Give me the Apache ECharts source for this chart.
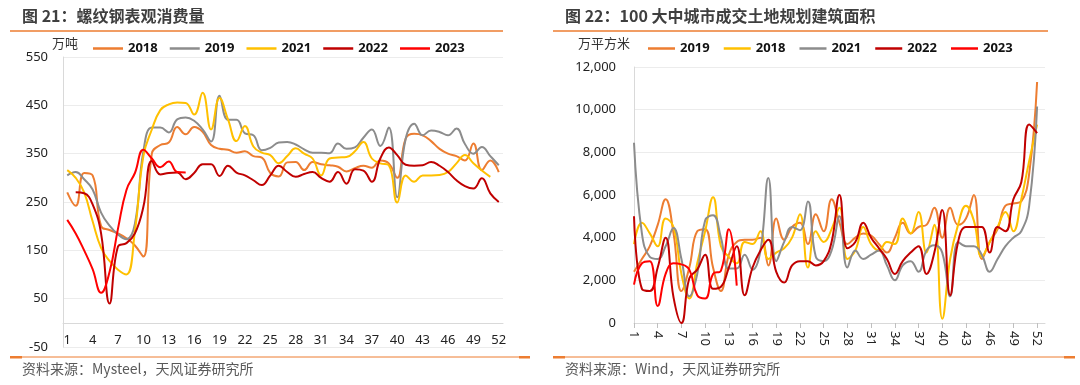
<!DOCTYPE html>
<html><head><meta charset="utf-8">
<script src="https://cdn.jsdelivr.net/npm/echarts@6/dist/echarts.min.js"></script>
<style>
html,body{margin:0;padding:0;background:#fff;}
#l{position:absolute;left:0;top:0;width:540px;height:385px;}
#r{position:absolute;left:540px;top:0;width:540px;height:385px;}
</style></head>
<body><div id="l"></div><div id="r"></div>
<script>
// ---------- left chart: 螺纹钢表观消费量 (万吨) ----------
const weeksL = ['1','2','3','4','5','6','7','8','9','10','11','12','13','14','15','16','17','18','19','20','21','22','23','24','25','26','27','28','29','30','31','32','33','34','35','36','37','38','39','40','41','42','43','44','45','46','47','48','49','50','51','52'];
const L2018 = [270,242,310,305,200,192,185,175,160,137,350,368,373,405,390,405,395,368,360,358,352,355,345,342,310,303,332,333,316,333,328,326,323,313,320,325,321,336,330,300,381,391,388,376,360,350,345,336,371,316,336,312];
const L2019 = [305,312,297,276,228,201,183,173,205,355,404,404,394,421,425,418,400,375,470,420,420,392,388,357,362,373,374,369,359,352,352,351,371,360,363,383,400,366,404,260,381,412,388,398,395,388,402,370,350,364,345,326];
const L2021 = [316,300,270,210,155,128,110,100,190,345,400,440,452,456,455,431,476,400,465,421,376,407,365,352,347,330,345,361,350,340,305,340,342,343,355,374,340,330,326,249,305,292,305,305,306,312,330,347,330,315,302,null];
const L2022 = [null,270,268,245,185,40,158,165,185,240,335,307,310,311,297,310,328,328,304,325,311,305,295,285,305,325,312,302,308,312,300,292,312,288,318,315,292,340,363,347,327,325,326,333,325,312,295,283,278,299,268,250];
const L2023 = [213,185,150,111,62,105,195,275,310,358,340,322,334,312,311];
const namesL = ['2018','2019','2021','2022','2023'];
const colorsL = ['#ED7D31','#8C8C8C','#FFC000','#C00000','#FF0000'];

// ---------- right chart: 100大中城市成交土地规划建筑面积 (万平方米) ----------
const weeksR = ['1','2','3','4','5','6','7','8','9','10','11','12','13','14','15','16','17','18','19','20','21','22','23','24','25','26','27','28','29','30','31','32','33','34','35','36','37','38','39','40','41','42','43','44','45','46','47','48','49','50','51','52','53'];
const R2019 = [2400,3000,3600,4600,5800,4200,1500,2600,4300,4400,2600,1500,3200,3800,3900,3900,4000,2700,4900,3900,4500,4700,3700,5100,4300,5800,4700,3700,4000,4200,4100,3700,3300,4000,4700,4200,4500,4600,5400,4000,5400,4600,4900,6000,3000,3800,4400,5500,5600,5700,7000,11300];
const R2018 = [3700,4700,4200,3600,4900,4500,2300,1150,2800,4300,5900,3600,3100,2800,3800,3700,4300,3000,3300,3500,4000,5100,2600,4300,3800,4400,5400,3000,3400,4500,3700,3400,3800,3700,4900,4200,5200,3300,4600,200,3000,4600,5500,4800,3100,3800,4500,5200,4300,5800,7600,9300];
const R2021 = [8450,4200,3100,3000,3600,4450,3000,1250,2300,4800,5050,4000,2550,2550,3200,2500,3400,6800,2900,3800,4500,4350,5700,3100,2900,3400,5000,2600,3400,3000,3200,3400,2700,2000,2700,2900,2400,3400,3650,3300,1250,3800,3600,3600,3200,2400,3000,3600,4000,4300,5500,10150];
const R2022 = [5000,1600,1500,2600,4000,1200,0,2100,2500,3200,1600,1700,2600,3600,1300,2600,3400,3900,2400,1900,2700,2900,2900,2700,2900,3800,6000,3500,3800,4700,4000,3500,3000,2300,2900,3300,3600,2300,3300,5300,1300,3800,4500,4500,4500,3300,4500,4300,5800,6600,9300,8900];
const R2023 = [1800,2800,2900,800,2300,2800,2750,2500,1300,1150,2300,2450,4400,1750];
const namesR = ['2019','2018','2021','2022','2023'];
const colorsR = ['#ED7D31','#FFC000','#8C8C8C','#C00000','#FF0000'];

const FONT = '"Noto Sans", "Noto Sans CJK SC", sans-serif';
const CJK = '"Noto Sans CJK SC", sans-serif';
const ORANGE = '#ED7D31';

function frame(title, source, unit, unitX, lineStart, lineEnd) {
  return [
    {type:'text', left:lineStart+12, top:8, style:{text:title, font:'bold 16px '+CJK, fill:'#3f3f3f'}},
    {type:'line', shape:{x1:lineStart, y1:31, x2:lineEnd, y2:31}, style:{stroke:ORANGE, lineWidth:1.5}},
    {type:'line', shape:{x1:lineStart, y1:357, x2:lineEnd+27, y2:357}, style:{stroke:ORANGE, lineWidth:1}},
    {type:'rect', shape:{x:lineStart, y:356, width:12, height:2.5}, style:{fill:ORANGE}},
    {type:'rect', shape:{x:lineEnd+16, y:356, width:11, height:2.5}, style:{fill:ORANGE}},
    {type:'text', left:lineStart+12, top:362, style:{text:source, font:'14px '+CJK, fill:'#595959'}},
    {type:'text', left:unitX, top:37, style:{text:unit, font:'13px '+CJK, fill:'#333'}}
  ];
}

function makeSeries(names, colors, arrays) {
  return names.map((n, i) => ({
    name: n, type: 'line', data: arrays[i], smooth: 0.45, symbol: 'none',
    lineStyle: {width: 2, color: colors[i]}, itemStyle: {color: colors[i]},
    connectNulls: false, animation: false
  }));
}

const legendBase = {
  top: 37, icon: 'rect', itemHeight: 2.5,
  textStyle: {fontSize: 13, fontWeight: 'bold', color: '#111', fontFamily: FONT}
};

const cl = echarts.init(document.getElementById('l'));
cl.setOption({
  animation: false,
  graphic: frame('图 21：螺纹钢表观消费量', '资料来源：Mysteel，天风证券研究所', '万吨', 52, 10, 503),
  legend: Object.assign({}, legendBase, {left: 88, itemWidth: 30, itemGap: 12, data: namesL}),
  grid: {left: 63, right: 37, top: 57, bottom: 38},
  xAxis: {
    type: 'category', data: weeksL, boundaryGap: true, offset: -24,
    axisLine: {onZero: false, lineStyle: {color: '#d9d9d9'}},
    axisTick: {interval: 2, length: 5, lineStyle: {color: '#bfbfbf'}},
    axisLabel: {interval: 2, margin: 11, fontSize: 13, color: '#222', fontFamily: FONT}
  },
  yAxis: {
    type: 'value', min: -50, max: 550, interval: 100,
    axisLine: {show: true, lineStyle: {color: '#d9d9d9'}},
    splitLine: {lineStyle: {color: '#ececec'}},
    axisLabel: {margin: 15, fontSize: 13, color: '#222', fontFamily: FONT}
  },
  series: makeSeries(namesL, colorsL, [L2018, L2019, L2021, L2022, L2023])
});

const cr = echarts.init(document.getElementById('r'));
cr.setOption({
  animation: false,
  graphic: frame('图 22：100 大中城市成交土地规划建筑面积', '资料来源：Wind，天风证券研究所', '万平方米', 38, 13, 508),
  legend: Object.assign({}, legendBase, {left: 103, itemWidth: 27, itemGap: 14, data: namesR}),
  grid: {left: 94, right: 35, top: 67, bottom: 62},
  xAxis: {
    type: 'category', data: weeksR, boundaryGap: false,
    axisLine: {lineStyle: {color: '#d9d9d9'}},
    axisTick: {interval: 2, length: 5, lineStyle: {color: '#bfbfbf'}},
    axisLabel: {interval: 2, rotate: -90, margin: 8, fontSize: 13, color: '#222', fontFamily: FONT}
  },
  yAxis: {
    type: 'value', min: 0, max: 12000, interval: 2000,
    axisLine: {show: true, lineStyle: {color: '#d9d9d9'}},
    splitLine: {lineStyle: {color: '#ececec'}},
    axisLabel: {margin: 18, fontSize: 13, color: '#222', fontFamily: FONT,
      formatter: v => v.toLocaleString('en-US')}
  },
  series: makeSeries(namesR, colorsR, [R2019, R2018, R2021, R2022, R2023])
});
</script></body></html>
